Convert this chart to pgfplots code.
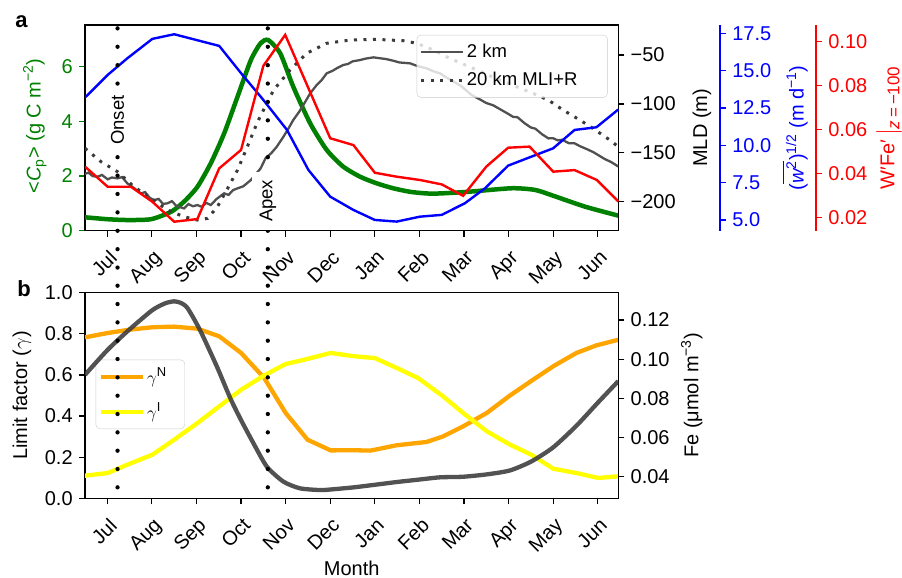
\documentclass[border=0pt]{standalone}
\usepackage{fontspec}
\setmainfont{Liberation Sans}
\usepackage{amsmath}
\usepackage{pgfplots}
\pgfplotsset{compat=1.18}
\definecolor{mgreen}{HTML}{008000}
\definecolor{morange}{HTML}{FFA500}
\definecolor{myellow}{HTML}{FFFF00}
\definecolor{gtwo}{HTML}{505050}
\definecolor{gtwenty}{HTML}{3A3A3A}
\definecolor{gfe}{HTML}{3F3F3F}
\newcommand\tfont{\fontsize{20}{24}\selectfont}
\newcommand\lfont{\fontsize{18.5}{22}\selectfont}
\pgfplotsset{
  base/.style={scale only axis, width=533.3pt, xmin=-0.5, xmax=11.46,
    tick align=outside, major tick length=6pt,
    every tick/.style={line width=1.2pt, black},
    axis line style={line width=1.3pt},
    tick label style={font=\tfont},
    label style={font=\tfont},
    xtick={0,...,11},
    xticklabels={Jul,Aug,Sep,Oct,Nov,Dec,Jan,Feb,Mar,Apr,May,Jun},
    xticklabel style={rotate=45, anchor=north east, xshift=-2pt, yshift=-3pt},
  },
  spine/.style={axis x line=none, axis y line*=right, y axis line style={-}},
}
\begin{document}
\lfont
\begin{tikzpicture}
\path[use as bounding box] (0pt,0pt) rectangle (902pt,-578pt);

% ================= PANEL A =================
\begin{axis}[base, height=205.7pt, at={(85pt,-230.7pt)}, anchor=south west,
  ymin=0, ymax=7.51, ytick={0,2,4,6}, yticklabels={0,2,4,6},
  tick pos=left,
  yticklabel style={text=mgreen}, ytick style={color=mgreen},
  ylabel={<\textit{C}\textsubscript{p}> (g C m\textsuperscript{−2})},
  ylabel style={text=mgreen, at={(axis description cs:-0.094,0.51)}, anchor=center}]
\addplot[mgreen, line width=4.5pt, smooth, tension=0.4] coordinates {
(-0.5,0.49) (0.0,0.42) (0.45,0.39) (0.98,0.42) (1.43,0.69) (1.72,1.06) (2.02,1.6) (2.32,2.46) (2.62,3.55) (2.92,4.89) (3.22,6.23) (3.44,6.85) (3.61,6.96) (3.88,6.47) (4.17,5.26) (4.55,3.92) (4.92,2.95) (5.29,2.34) (5.67,1.97) (6.04,1.73) (6.41,1.55) (6.79,1.42) (7.16,1.36) (7.46,1.36) (8.09,1.42) (9.07,1.55) (9.59,1.49) (9.96,1.30) (10.71,0.88) (11.46,0.55)};
\end{axis}

\begin{axis}[base, spine, height=205.7pt, at={(85pt,-230.7pt)}, anchor=south west,
  ymin=-229.6, ymax=-19.3, ytick={-200,-150,-100,-50}, yticklabels={−200,−150,−100,−50},
  ylabel={MLD (m)}, ylabel style={at={(axis description cs:1.157,0.5)}, anchor=center},
  legend style={at={(0.98,0.952)}, anchor=north east, draw=black!20, fill=white, fill opacity=0.8, text opacity=1, rounded corners=4pt, inner xsep=3pt, inner ysep=7pt, row sep=8pt, font=\lfont},
  legend cell align=left,
  legend image code/.code={\draw[#1] (0pt,0pt) -- (42pt,0pt);}]
\addplot[gtwo, line width=2.3pt] coordinates {
(-0.5,-171.5) (-0.42,-170.2) (-0.33,-173.8) (-0.22,-174.4) (-0.12,-172.6) (0.01,-177.1) (0.1,-175.2) (0.23,-176.1) (0.33,-174.8) (0.45,-181.2) (0.6,-186.0) (0.75,-191.4) (0.85,-190.2) (0.95,-196.0) (1.05,-198.3) (1.15,-197.1) (1.25,-202.2) (1.35,-201.6) (1.45,-199.4) (1.55,-204.3) (1.72,-206.8) (1.82,-202.4) (1.92,-204.6) (2.02,-203.4) (2.12,-205.2) (2.22,-201.1) (2.32,-203.4) (2.45,-197.2) (2.62,-191.4) (2.72,-193.0) (2.82,-188.1) (2.92,-186.3) (3.05,-184.2) (3.22,-177.8) (3.32,-172.3) (3.44,-165.8) (3.55,-155.4) (3.68,-150.2) (3.80,-143.8) (3.95,-133.5) (4.05,-126.1) (4.17,-116.5) (4.30,-108.2) (4.42,-99.3) (4.55,-89.2) (4.70,-80.4) (4.80,-76.1) (4.92,-68.7) (5.05,-66.2) (5.15,-63.4) (5.29,-60.2) (5.40,-59.1) (5.50,-56.5) (5.67,-55.1) (5.80,-53.6) (5.97,-52.4) (6.10,-53.2) (6.25,-54.1) (6.41,-55.8) (6.55,-57.6) (6.79,-58.5) (6.95,-61.2) (7.16,-63.6) (7.30,-66.4) (7.46,-68.7) (7.65,-74.2) (7.80,-78.1) (7.95,-82.3) (8.17,-90.9) (8.35,-95.2) (8.50,-99.1) (8.65,-101.3) (8.84,-106.2) (9.00,-110.4) (9.10,-113.2) (9.20,-113.6) (9.36,-119.8) (9.50,-124.1) (9.60,-125.3) (9.75,-131.0) (9.89,-135.2) (10.00,-135.1) (10.10,-137.2) (10.20,-136.6) (10.35,-140.1) (10.48,-140.3) (10.60,-143.2) (10.75,-146.1) (10.90,-149.3) (11.01,-152.3) (11.15,-156.2) (11.30,-159.4) (11.46,-164.0)};
\addlegendentry{2 km}
\addplot[gtwenty, line width=3pt, dash pattern=on 3pt off 6.5pt] coordinates {
(-0.5,-145.4) (-0.14,-159.1) (0.23,-169.3) (0.60,-184.7) (0.98,-196.5) (1.35,-208.5) (1.72,-215.3) (2.02,-218.7) (2.25,-217.0) (2.47,-205.1) (2.70,-186.3) (2.92,-167.6) (3.14,-143.8) (3.37,-118.2) (3.73,-85.8) (4.10,-65.3) (4.47,-48.3) (4.92,-38.0) (5.44,-34.7) (6.04,-34.0) (6.64,-35.4) (6.94,-38.0) (7.31,-44.9) (7.68,-53.4) (8.06,-60.8) (8.43,-68.2) (8.80,-75.6) (9.18,-82.4) (9.55,-89.2) (9.89,-96.0) (10.22,-106.2) (10.60,-116.5) (10.89,-125.0) (11.27,-136.9) (11.46,-143.8)};
\addlegendentry{20 km MLI+R\hspace*{25pt}}
\end{axis}

\begin{axis}[base, spine, width=635pt, xmax=13.741, height=205.7pt, at={(85pt,-230.7pt)}, anchor=south west,
  ymin=4.28, ymax=18.06, ytick={5,7.5,10,12.5,15,17.5}, yticklabels={5.0,7.5,10.0,12.5,15.0,17.5},
  y axis line style={blue}, ytick style={color=blue}, yticklabel style={text=blue},
  ylabel={($\overline{\mbox{\itshape w\upshape\textsuperscript{2}}}$)\textsuperscript{1/2} (m d\textsuperscript{−1})},
  ylabel style={text=blue, at={(axis description cs:1.118,0.5)}, anchor=center}]
\addplot[blue, line width=2.4pt] coordinates {
(-0.5,13.2) (0.01,14.72) (0.45,15.83) (1.01,17.13) (1.50,17.44) (2.51,16.66) (3.00,14.83) (3.47,13.15) (4.03,11.03) (4.51,8.35) (5.00,6.56) (5.52,5.67) (6.00,5.0) (6.49,4.89) (7.01,5.22) (7.50,5.34) (8.02,6.12) (8.47,7.12) (8.99,8.64) (9.51,9.24) (10.0,9.80) (10.48,11.03) (10.97,11.21) (11.46,12.4)};
\end{axis}

\begin{axis}[base, spine, width=731pt, xmax=15.894, height=205.7pt, at={(85pt,-230.7pt)}, anchor=south west,
  ymin=0.0139, ymax=0.1076, ytick={0.02,0.04,0.06,0.08,0.10}, yticklabels={0.02,0.04,0.06,0.08,0.10},
  y axis line style={red}, ytick style={color=red}, yticklabel style={text=red},
  ylabel={W′Fe′\,$\big|$\raisebox{-5pt}{\fontsize{17}{17}\selectfont\itshape z\upshape\,=\,−100}},
  ylabel style={text=red, at={(axis description cs:1.1,0.5)}, anchor=center}]
\addplot[red, line width=2.4pt] coordinates {
(-0.5,0.0431) (0.01,0.0339) (0.53,0.0339) (1.01,0.0271) (1.50,0.0180) (2.02,0.0192) (2.51,0.0423) (3.00,0.0507) (3.50,0.0890) (3.99,0.1031) (5.00,0.0560) (5.52,0.0529) (6.00,0.0403) (6.49,0.0385) (7.01,0.0370) (7.50,0.0350) (7.98,0.0298) (8.50,0.0431) (8.99,0.0517) (9.47,0.0522) (10.0,0.0408) (10.48,0.0415) (10.98,0.0370) (11.46,0.0272)};
\end{axis}

\begin{axis}[base, hide axis, clip=false, height=205.7pt, at={(85pt,-230.7pt)}, anchor=south west,
  ymin=0, ymax=7.51]
\addplot[black, line width=4.3pt, line cap=round, dash pattern=on 0pt off 18.4pt] coordinates {(0.23,7.387) (0.23,-1.36)};
\addplot[black, line width=4.3pt, line cap=round, dash pattern=on 0pt off 18.4pt] coordinates {(3.60,7.387) (3.60,-1.36)};
\node[rotate=90, fill=white, inner sep=8pt, font=\lfont] at (axis cs:0.23,4.04) {Onset};
\node[rotate=90, fill=white, inner sep=8pt, font=\lfont] at (axis cs:3.60,1.09) {Apex};
\end{axis}

% ================= PANEL B =================
\begin{axis}[base, height=205.6pt, at={(85pt,-498.3pt)}, anchor=south west,
  ymin=0, ymax=1.0, ytick={0,0.2,0.4,0.6,0.8,1.0}, yticklabels={0.0,0.2,0.4,0.6,0.8,1.0},
  tick pos=left,
  ylabel={Limit factor ($\gamma$)},
  ylabel style={at={(axis description cs:-0.118,0.5)}, anchor=center},
  xlabel={Month},
  xlabel style={at={(axis description cs:0.5,-0.339)}, anchor=center},
  legend style={at={(0.02,0.674)}, anchor=north west, draw=black!20, fill=white, fill opacity=0.8, text opacity=1, rounded corners=4pt, inner xsep=3pt, inner ysep=6pt, row sep=13pt, font=\lfont},
  legend cell align=left,
  legend image code/.code={\draw[#1] (0pt,0pt) -- (42pt,0pt);}]
\addplot[morange, line width=4.3pt] coordinates {
(-0.5,0.783) (0.01,0.804) (0.49,0.820) (1.01,0.832) (1.50,0.835) (2.02,0.825) (2.51,0.788) (3.00,0.707) (3.52,0.585) (4.00,0.415) (4.49,0.285) (5.01,0.233) (5.50,0.234) (5.90,0.232) (6.49,0.258) (7.16,0.274) (7.53,0.301) (7.98,0.350) (8.51,0.415) (9.03,0.500) (9.55,0.577) (10.0,0.642) (10.52,0.707) (10.97,0.744) (11.46,0.771)};
\addlegendentry{$\gamma^{\text{N}}$\hspace*{13pt}}
\addplot[myellow, line width=4.3pt] coordinates {
(-0.5,0.110) (0.01,0.123) (0.49,0.167) (1.01,0.212) (1.50,0.285) (2.02,0.366) (2.51,0.447) (3.00,0.528) (3.52,0.598) (4.00,0.653) (4.49,0.678) (5.01,0.707) (5.53,0.691) (6.00,0.682) (6.49,0.634) (6.97,0.585) (7.53,0.496) (7.98,0.415) (8.51,0.326) (9.03,0.261) (9.51,0.212) (10.0,0.144) (10.52,0.123) (11.01,0.099) (11.46,0.107)};
\addlegendentry{$\gamma^{\text{I}}$}
\end{axis}

\begin{axis}[base, spine, height=205.6pt, at={(85pt,-498.3pt)}, anchor=south west,
  ymin=0.029, ymax=0.1339, ytick={0.04,0.06,0.08,0.10,0.12}, yticklabels={0.04,0.06,0.08,0.10,0.12},
  ylabel={Fe (μmol m\textsuperscript{−3})},
  ylabel style={at={(axis description cs:1.138,0.5)}, anchor=center}]
\addplot[gfe, line width=4.3pt, opacity=0.9, smooth, tension=0.4] coordinates {
(-0.5,0.0920) (0.01,0.1048) (0.49,0.1150) (1.01,0.1250) (1.30,0.1285) (1.50,0.1295) (1.65,0.1287) (1.80,0.1260) (2.08,0.1148) (2.46,0.0961) (2.76,0.0800) (3.00,0.0689) (3.28,0.0570) (3.58,0.0451) (3.95,0.0375) (4.32,0.0341) (4.77,0.0332) (5.01,0.0335) (5.53,0.0346) (6.00,0.0359) (6.49,0.0373) (6.97,0.0385) (7.46,0.0397) (7.98,0.0400) (8.51,0.0412) (9.03,0.0432) (9.51,0.0478) (10.0,0.055) (10.52,0.066) (11.01,0.078) (11.46,0.0888)};
\end{axis}

\begin{axis}[base, hide axis, clip=false, height=205.6pt, at={(85pt,-498.3pt)}, anchor=south west,
  ymin=0, ymax=1.0]
\addplot[black, line width=4.3pt, line cap=round, dash pattern=on 0pt off 18.33pt] coordinates {(0.23,1.034) (0.23,0.052)};
\addplot[black, line width=4.3pt, line cap=round, dash pattern=on 0pt off 18.33pt] coordinates {(3.60,1.034) (3.60,0.052)};
\end{axis}

\node[font=\fontsize{22}{22}\selectfont\bfseries, anchor=base west] at (9pt,-28pt) {a};
\node[font=\fontsize{22}{22}\selectfont\bfseries, anchor=base west] at (11pt,-296.5pt) {b};
\end{tikzpicture}
\end{document}
